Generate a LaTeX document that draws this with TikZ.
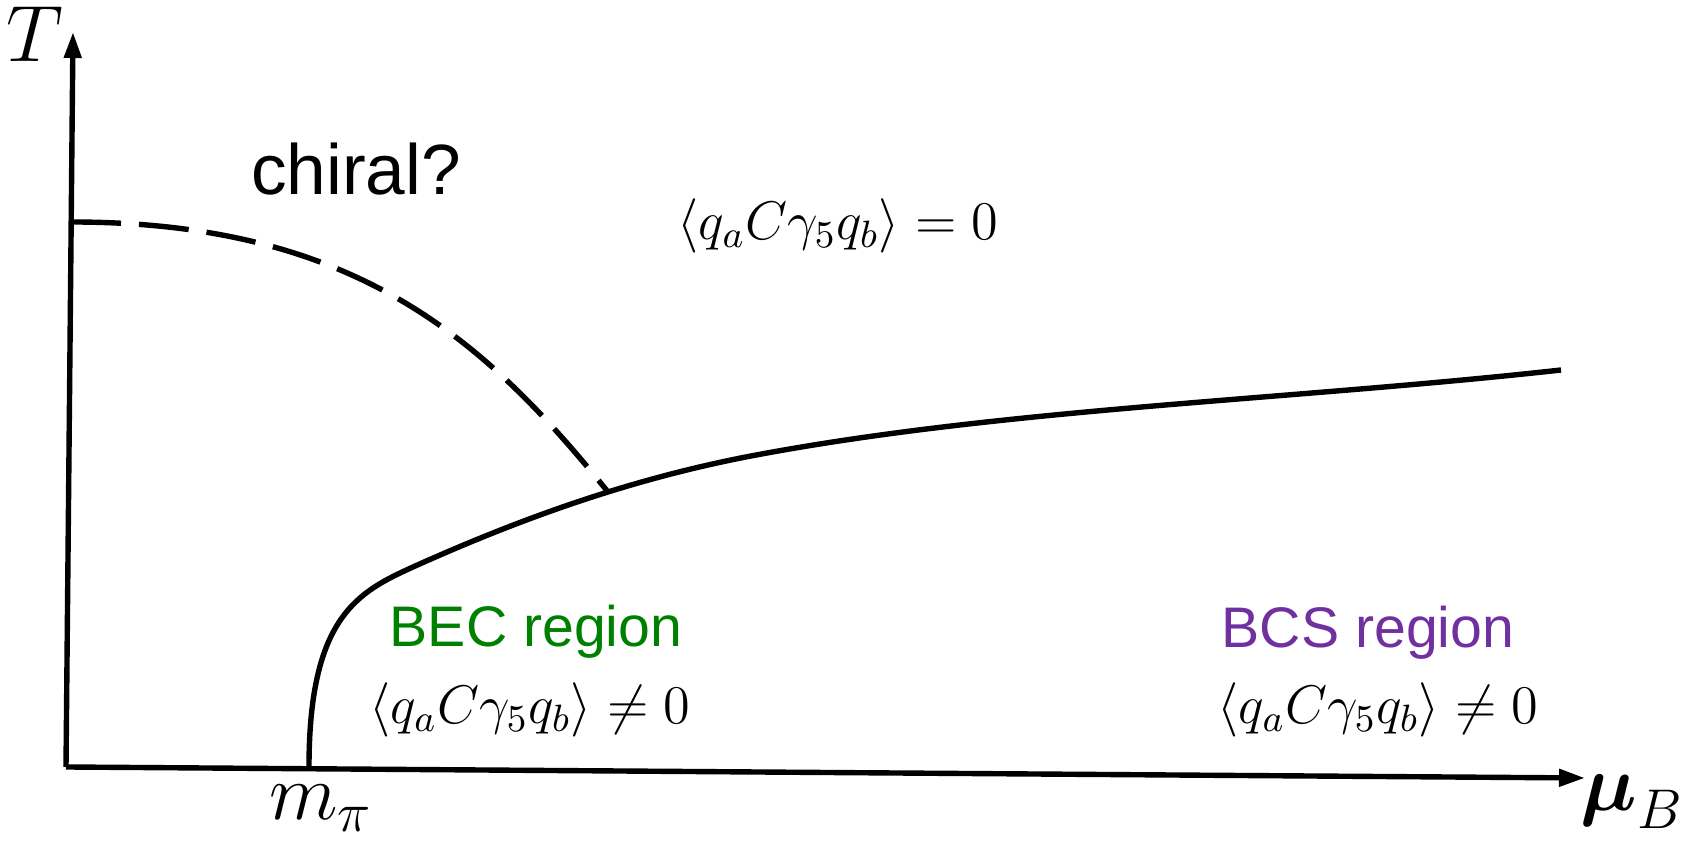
\RequirePackage{fix-cm}
\documentclass[tikz,border=0pt]{standalone}
\usepackage{amsmath}
\usepackage{fontspec}
\newfontfamily\arialfont{Liberation Sans}
\usetikzlibrary{arrows.meta}
\definecolor{becgreen}{RGB}{0,128,0}
\definecolor{bcspurple}{RGB}{112,48,160}
\tikzset{
  axisline/.style={line width=1.35pt,-{Triangle[length=6.5pt,width=4.2pt]}},
  solidcurve/.style={line width=1.35pt},
  dashcurve/.style={line width=1.35pt,dash pattern=on 12.5pt off 4.5pt},
  sanslbl/.style={font=\arialfont\fontsize{14.3}{17}\selectfont,inner sep=0pt},
  mathlbl/.style={font=\fontsize{13.6}{16}\selectfont,inner sep=0pt},
  axislbl/.style={font=\fontsize{20}{24}\selectfont,inner sep=0pt}
}
\begin{document}
\begin{tikzpicture}[x=0.25pt,y=-0.25pt]
\useasboundingbox (0,0) rectangle (1682,841);
% axes
\coordinate (O) at (66,767);
\coordinate (ytip) at (73,32);
\coordinate (xtip) at (1585,778);
\draw[axisline] (O) -- (ytip);
\draw[axisline] (O) -- (xtip);
% labels of axes
\node[axislbl] (T) at (35,34) {$T$};
\node[axislbl] (muB) at (1632,802) {$\boldsymbol{\mu}_B$};
\node[axislbl] (mpi) at (321,808) {$m_\pi$};
% curves
\coordinate (mpiP) at (309,767);
\coordinate (knee) at (413,567);
\coordinate (mid) at (751,456);
\coordinate (endc) at (1561,370);
\coordinate (Tc) at (71,222);
\coordinate (trip) at (608,492);
\draw[solidcurve] (mpiP) .. controls (309,617) and (358,592) .. (knee)
  .. controls (522,518) and (631,479) .. (mid)
  .. controls (1001,408.5) and (1291,400) .. (endc);
\draw[dashcurve] (Tc) .. controls (353,222) and (483,337) .. (trip);
% texts
\node[sanslbl,anchor=base,font=\arialfont\fontsize{17.8}{20}\selectfont] (chiral) at (356,195) {chiral?};
\node[mathlbl] (top) at (838,226) {$\langle q_a C\gamma_5 q_b\rangle = 0$};
\node[sanslbl,anchor=base,text=becgreen] (bec) at (536,647) {BEC region};
\node[mathlbl] (becm) at (530,710) {$\langle q_a C\gamma_5 q_b\rangle \neq 0$};
\node[sanslbl,anchor=base,text=bcspurple] (bcs) at (1368,648) {BCS region};
\node[mathlbl] (bcsm) at (1378,710) {$\langle q_a C\gamma_5 q_b\rangle \neq 0$};
\end{tikzpicture}
\end{document}
